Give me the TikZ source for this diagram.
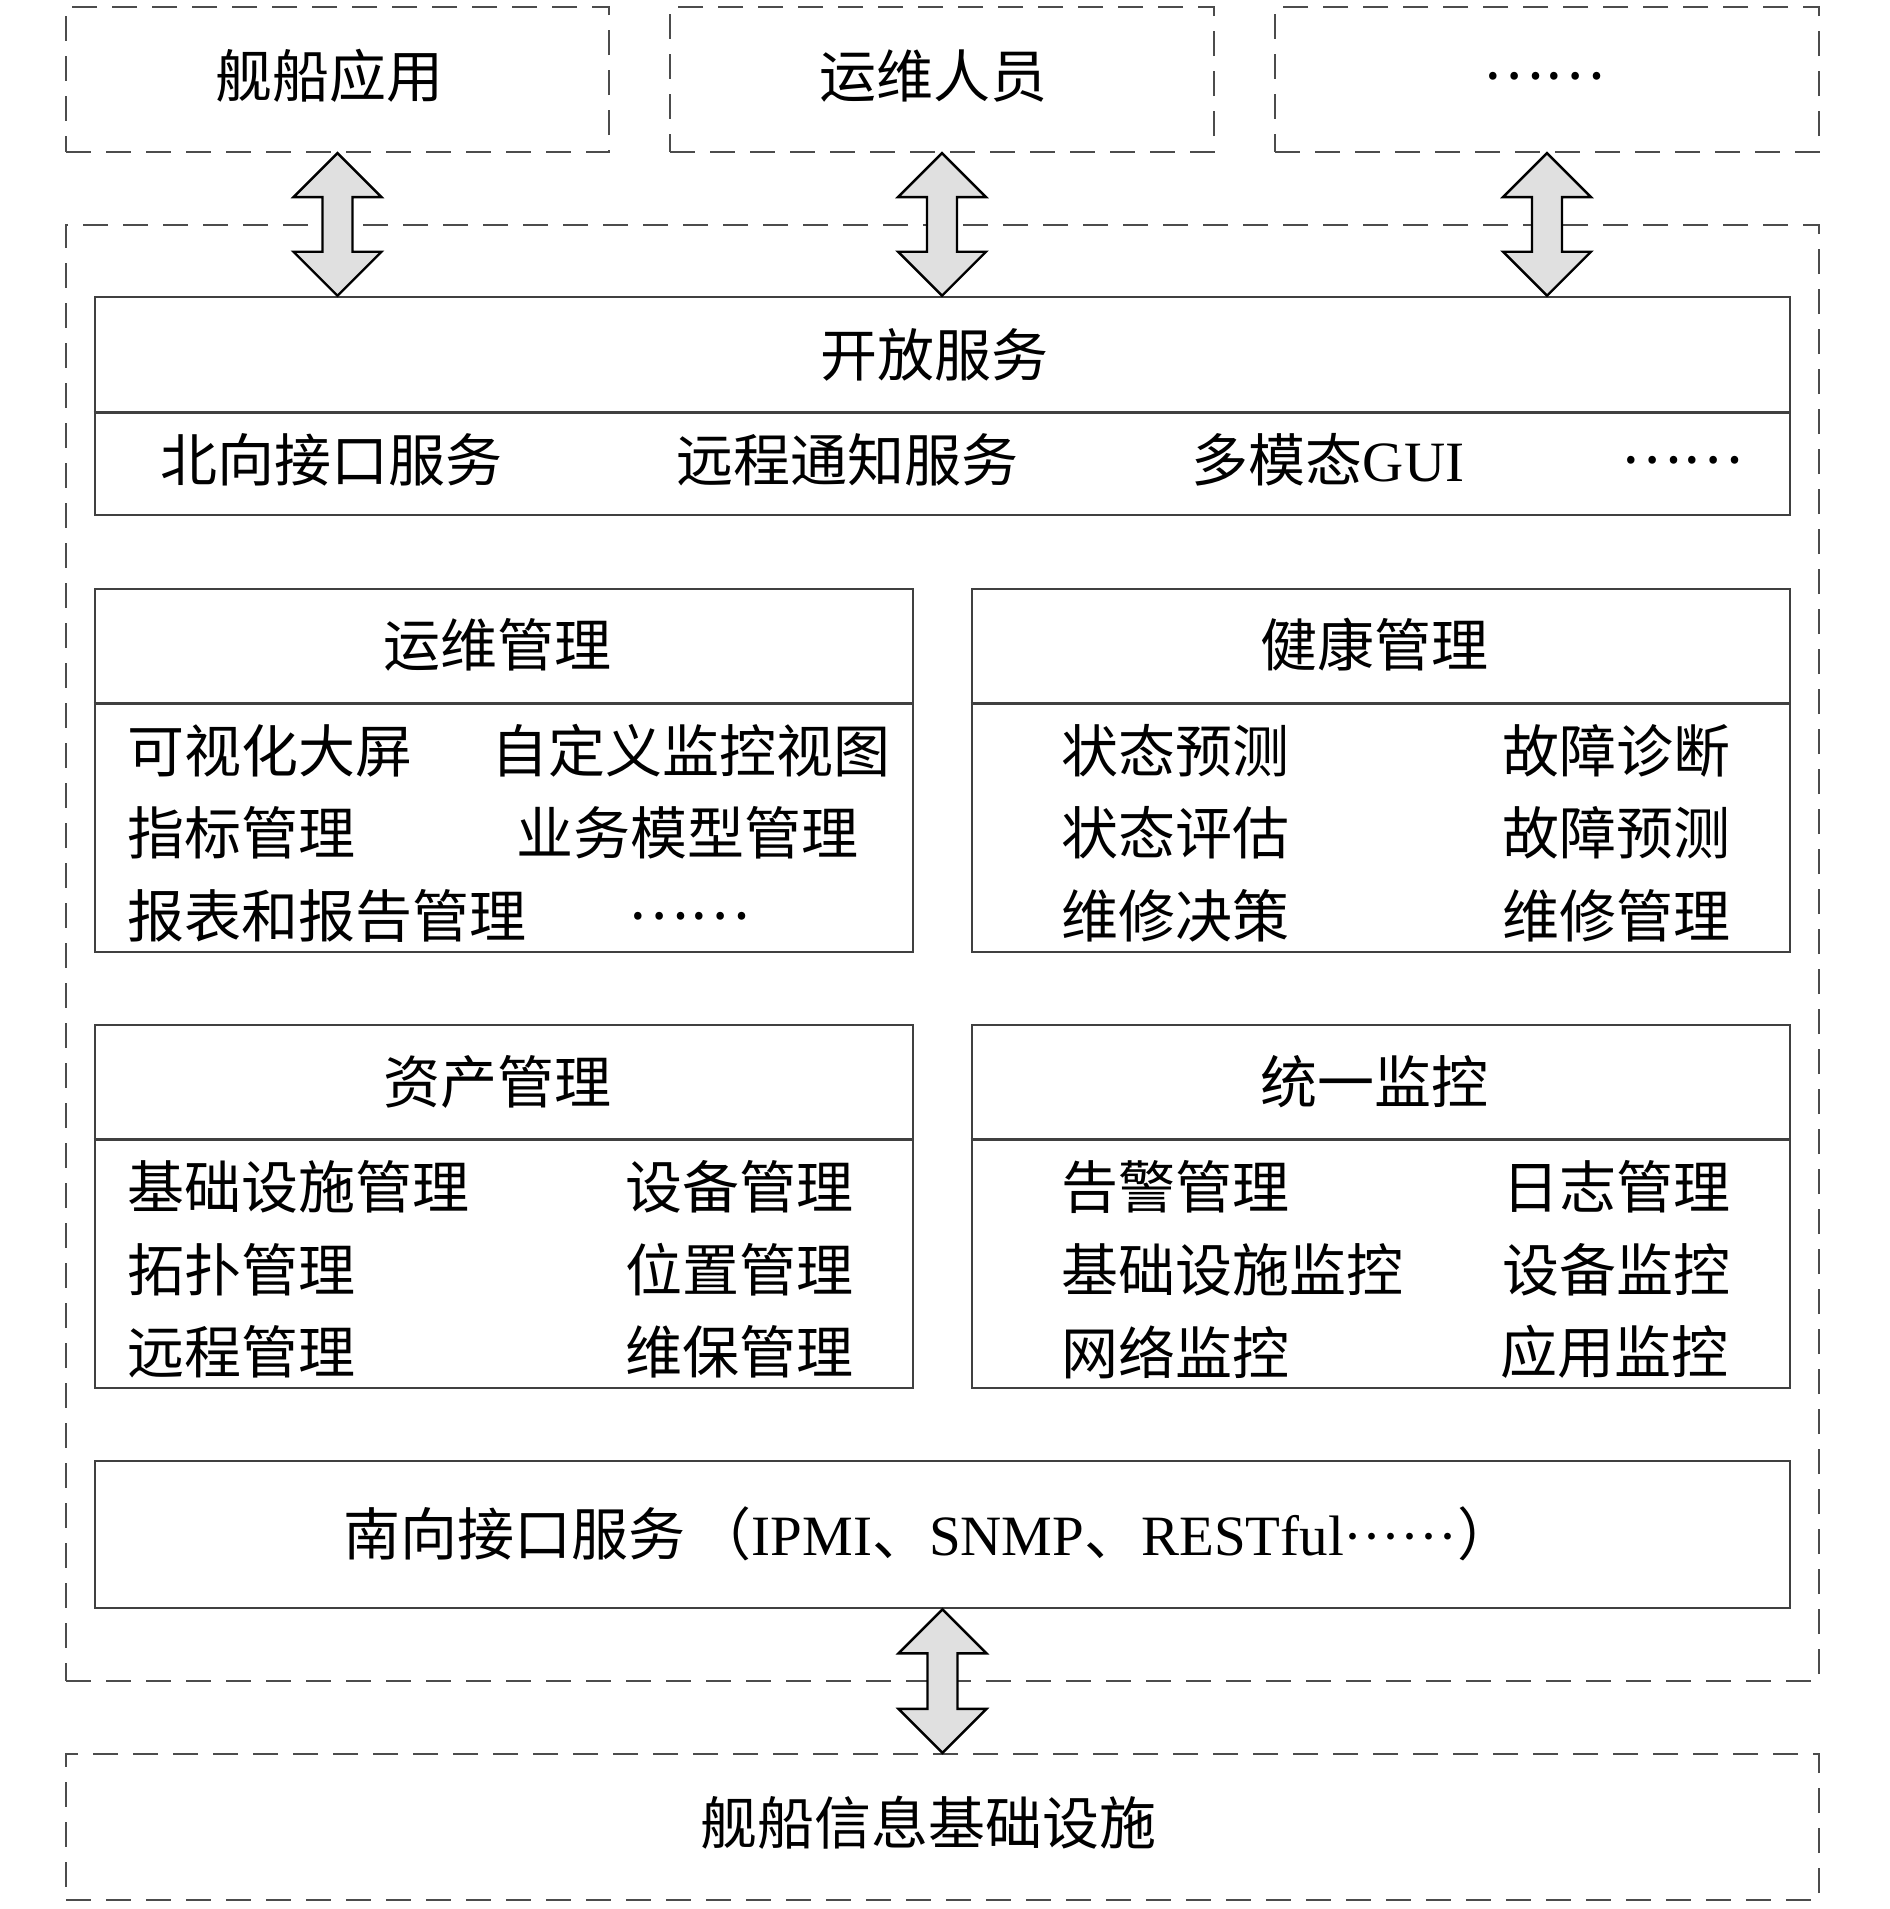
\documentclass[tikz,border=0pt]{standalone}
\usepackage{fontspec}
\setmainfont{Noto Sans CJK SC}
\newfontfamily\lat{Liberation Serif}
\usetikzlibrary{calc}
\begin{document}
\begin{tikzpicture}[x=1pt,y=-1pt,
  dbox/.style={draw=black!70, line width=2.2pt, dash pattern=on 25pt off 15pt, inner sep=0pt},
  sbox/.style={draw=black!75, line width=2.6pt, inner sep=0pt},
  txt/.style={font=\fontsize{57pt}{62pt}\selectfont, inner sep=0pt, text=black},
  lt/.style={txt, anchor=west},
  dblarr/.style={draw=black, fill=black!12, line width=2.4pt, line join=miter}]
\useasboundingbox (0,0) rectangle (1890,1909);

\newcommand\dblarrow[2]{%
  \draw[dblarr] (#1) -- ($(#1)+(44,44)$) -- ($(#1)+(15,44)$) -- ($(#2)+(15,-44)$) -- ($(#2)+(44,-44)$) -- (#2)
  -- ($(#2)+(-44,-44)$) -- ($(#2)+(-15,-44)$) -- ($(#1)+(-15,44)$) -- ($(#1)+(-44,44)$) -- cycle;}

% top dashed boxes
\node[dbox, minimum width=543pt, minimum height=145pt] (app) at (337.5,79.5) {};
\node[txt] (appt) at (329,76) {舰船应用};
\node[dbox, minimum width=544pt, minimum height=145pt] (ops) at (942,79.5) {};
\node[txt] (opst) at (933,76) {运维人员};
\node[dbox, minimum width=544pt, minimum height=145pt] (more) at (1547,79.5) {};
\node[txt] (moret) at (1544,76) {……};

% outer dashed frame
\node[dbox, minimum width=1753pt, minimum height=1456pt] (outer) at (942.5,953) {};

% 开放服务
\node[sbox, minimum width=1695pt, minimum height=218pt] (open) at (942.5,406) {};
\draw[sbox] ([yshift=-117pt]open.north west) -- ([yshift=-117pt]open.north east);
\node[txt] (opent) at (934,355) {开放服务};
\node[txt] (o1) at (331,460) {北向接口服务};
\node[txt] (o2) at (847,460) {远程通知服务};
\node[txt] (o3) at (1328,460) {多模态{\lat GUI}};
\node[txt] (o4) at (1682,460) {……};

% 运维管理
\node[sbox, minimum width=818pt, minimum height=363pt] (yw) at (504,770.5) {};
\draw[sbox] ([yshift=-116pt]yw.north west) -- ([yshift=-116pt]yw.north east);
\node[txt] (ywt) at (497,645) {运维管理};
\node[lt] (yw1) at (127,751) {可视化大屏};
\node[lt] (yw2) at (491,751) {自定义监控视图};
\node[lt] (yw3) at (127,833) {指标管理};
\node[lt] (yw4) at (516,833) {业务模型管理};
\node[lt] (yw5) at (127,916) {报表和报告管理};
\node[txt] (yw6) at (689,916) {……};

% 健康管理
\node[sbox, minimum width=818pt, minimum height=363pt] (jk) at (1381,770.5) {};
\draw[sbox] ([yshift=-116pt]jk.north west) -- ([yshift=-116pt]jk.north east);
\node[txt] (jkt) at (1374,645) {健康管理};
\node[lt] (jk1) at (1061,751) {状态预测};
\node[lt] (jk2) at (1502,751) {故障诊断};
\node[lt] (jk3) at (1061,833) {状态评估};
\node[lt] (jk4) at (1502,833) {故障预测};
\node[lt] (jk5) at (1061,916) {维修决策};
\node[lt] (jk6) at (1502,916) {维修管理};

% 资产管理
\node[sbox, minimum width=818pt, minimum height=363pt] (zc) at (504,1206.5) {};
\draw[sbox] ([yshift=-116pt]zc.north west) -- ([yshift=-116pt]zc.north east);
\node[txt] (zct) at (497,1082) {资产管理};
\node[lt] (zc1) at (127,1187) {基础设施管理};
\node[lt] (zc2) at (625,1187) {设备管理};
\node[lt] (zc3) at (127,1270) {拓扑管理};
\node[lt] (zc4) at (625,1270) {位置管理};
\node[lt] (zc5) at (127,1352) {远程管理};
\node[lt] (zc6) at (625,1352) {维保管理};

% 统一监控
\node[sbox, minimum width=818pt, minimum height=363pt] (jc) at (1381,1206.5) {};
\draw[sbox] ([yshift=-116pt]jc.north west) -- ([yshift=-116pt]jc.north east);
\node[txt] (jct) at (1374,1082) {统一监控};
\node[lt] (jc1) at (1061,1187) {告警管理};
\node[lt] (jc2) at (1502,1187) {日志管理};
\node[lt] (jc3) at (1061,1270) {基础设施监控};
\node[lt] (jc4) at (1502,1270) {设备监控};
\node[lt] (jc5) at (1061,1352) {网络监控};
\node[lt] (jc6) at (1500,1352) {应用监控};

% 南向接口服务
\node[sbox, minimum width=1695pt, minimum height=147pt] (south) at (942.5,1534.5) {};
\node[lt] (southt) at (343,1534) {南向接口服务\,（{\lat IPMI}、{\lat SNMP}、{\lat RESTful}{\lat\textperiodcentered\textperiodcentered\textperiodcentered\textperiodcentered\textperiodcentered\textperiodcentered}）};

% bottom dashed box
\node[dbox, minimum width=1753pt, minimum height=146pt] (infra) at (942.5,1827) {};
\node[txt] (infrat) at (928,1823) {舰船信息基础设施};

% arrows
\coordinate (a1b) at (app.south |- open.north);
\coordinate (a2b) at (ops.south |- open.north);
\coordinate (a3b) at (more.south |- open.north);
\coordinate (a4t) at (south.south);
\coordinate (a4b) at (south.south |- infra.north);
\dblarrow{app.south}{a1b}
\dblarrow{ops.south}{a2b}
\dblarrow{more.south}{a3b}
\dblarrow{a4t}{a4b}
\end{tikzpicture}
\end{document}
